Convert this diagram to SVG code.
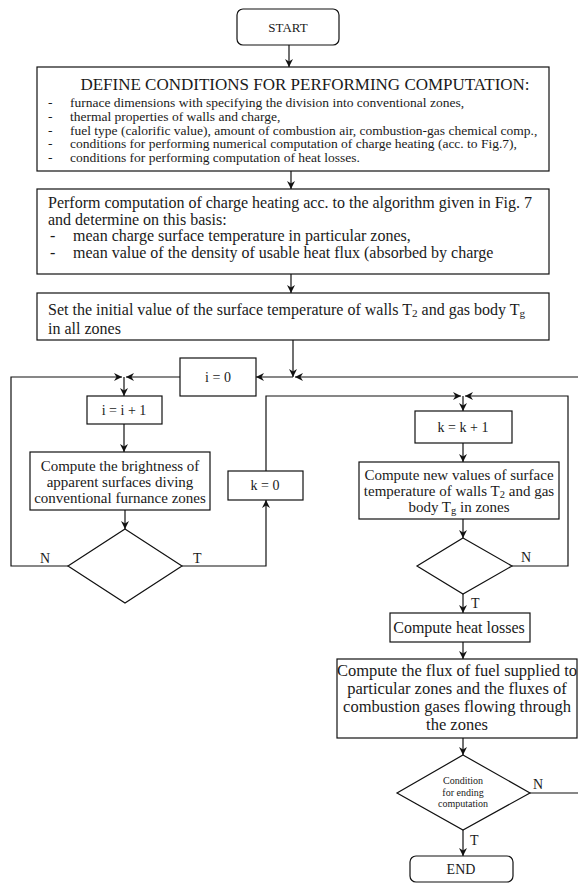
<svg xmlns="http://www.w3.org/2000/svg" width="578" height="883" viewBox="0 0 578 883">
<defs>
<marker id="arr" markerUnits="userSpaceOnUse" markerWidth="9" markerHeight="8" refX="8" refY="4" orient="auto">
<path d="M0,0 L8,4 L0,8 L2.5,4 z" fill="#111"/>
</marker>
<style>
.box{fill:#fff;stroke:#111;stroke-width:1.2}
.ln{fill:none;stroke:#111;stroke-width:1.2}
.ar{fill:none;stroke:#111;stroke-width:1.2;marker-end:url(#arr)}
text{font-family:"Liberation Serif","Times New Roman",serif;fill:#1a1a1a}
.c{text-anchor:middle}
.sub{font-size:70%}
</style>
</defs>
<rect width="578" height="883" fill="#fff"/>
<g id="connectors">
<path class="ar" d="M289,45 V67"/>
<path class="ar" d="M291,171 V189"/>
<path class="ar" d="M291,274 V293"/>
<path class="ar" d="M293,340 V377"/>
<path class="ar" d="M578,377 H295"/>
<path class="ar" d="M293,377 H256"/>
<path class="ar" d="M180,377 H126"/>
<path class="ar" d="M68,566 H11 V377 H122"/>
<path class="ar" d="M124,377 V396"/>
<path class="ar" d="M124,424 V452"/>
<path class="ar" d="M125,510 V529"/>
<path class="ar" d="M182,566 H266 V500"/>
<path class="ar" d="M266,471 V396 H461"/>
<path class="ar" d="M512,566 H568 V396 H465"/>
<path class="ar" d="M463,396 V411"/>
<path class="ar" d="M463,443 V462"/>
<path class="ar" d="M463,519 V538"/>
<path class="ar" d="M463,594 V613"/>
<path class="ar" d="M463,642 V659"/>
<path class="ar" d="M463,738 V755"/>
<path class="ln" d="M530,793 H578"/>
<path class="ar" d="M463,830 V856"/>
</g>
<g id="start">
<rect class="box" x="237" y="9" width="102" height="36" rx="6"/>
<text class="c" x="288" y="32" font-size="13">START</text>
</g>
<g id="define">
<rect class="box" x="37" y="67" width="512" height="104"/>
<text class="c" x="305" y="90" font-size="17">DEFINE CONDITIONS FOR PERFORMING COMPUTATION:</text>
<g font-size="13.5">
<text x="48" y="107">-</text><text x="70" y="107">furnace dimensions with specifying the division into conventional zones,</text>
<text x="48" y="120.8">-</text><text x="70" y="120.8">thermal properties of walls and charge,</text>
<text x="48" y="134.6">-</text><text x="70" y="134.6">fuel type (calorific value), amount of combustion air, combustion-gas chemical comp.,</text>
<text x="48" y="148.4">-</text><text x="70" y="148.4">conditions for performing numerical computation of charge heating (acc. to Fig.7),</text>
<text x="48" y="162.2">-</text><text x="70" y="162.2">conditions for performing computation of heat losses.</text>
</g>
</g>
<g id="perform">
<rect class="box" x="37" y="189" width="512" height="85"/>
<g font-size="16">
<text x="48" y="208">Perform computation of charge heating acc. to the algorithm given in Fig. 7</text>
<text x="48" y="224.5">and determine on this basis:</text>
<text x="50" y="241">-</text><text x="73" y="241">mean charge surface temperature in particular zones,</text>
<text x="50" y="257.5">-</text><text x="73" y="257.5">mean value of the density of usable heat flux (absorbed by charge</text>
</g>
</g>
<g id="set">
<rect class="box" x="37" y="293" width="512" height="47"/>
<g font-size="16">
<text x="48" y="315">Set the initial value of the surface temperature of walls T<tspan class="sub" dy="2">2</tspan><tspan dy="-2"> and gas body T</tspan><tspan class="sub" dy="2">g</tspan></text>
<text x="48" y="334">in all zones</text>
</g>
</g>
<g id="i0">
<rect class="box" x="180" y="358" width="76" height="38"/>
<text class="c" x="218" y="382" font-size="14">i = 0</text>
</g>
<g id="iinc">
<rect class="box" x="87" y="396" width="75" height="28"/>
<text class="c" x="124" y="415" font-size="14">i = i + 1</text>
</g>
<g id="bright">
<rect class="box" x="30" y="452" width="180" height="58"/>
<g font-size="15" class="c">
<text x="120" y="471">Compute the brightness of</text>
<text x="120" y="487">apparent surfaces diving</text>
<text x="120" y="503">conventional furnance zones</text>
</g>
</g>
<g id="dec1">
<path class="box" d="M125,529 L182,566 L125,603 L68,566 z"/>
<text x="40" y="563" font-size="14">N</text>
<text x="193" y="563" font-size="14">T</text>
</g>
<g id="k0">
<rect class="box" x="228" y="471" width="75" height="29"/>
<text class="c" x="265" y="490" font-size="14">k = 0</text>
</g>
<g id="kinc">
<rect class="box" x="415" y="411" width="97" height="32"/>
<text class="c" x="463" y="432" font-size="14">k = k + 1</text>
</g>
<g id="newvals">
<rect class="box" x="359" y="462" width="200" height="57"/>
<g font-size="15" class="c">
<text x="459" y="480">Compute new values of surface</text>
<text x="459" y="496">temperature of walls T<tspan class="sub" dy="2">2</tspan><tspan dy="-2"> and gas</tspan></text>
<text x="459" y="512">body T<tspan class="sub" dy="2">g</tspan><tspan dy="-2"> in zones</tspan></text>
</g>
</g>
<g id="dec2">
<path class="box" d="M463,538 L512,566 L463,594 L417,566 z"/>
<text x="521" y="562" font-size="14">N</text>
<text x="471" y="608" font-size="14">T</text>
</g>
<g id="heat">
<rect class="box" x="390" y="613" width="140" height="29"/>
<text class="c" x="459" y="633" font-size="16">Compute heat losses</text>
</g>
<g id="flux">
<rect class="box" x="337" y="659" width="240" height="79"/>
<g font-size="16.5" class="c">
<text x="457" y="676">Compute the flux of fuel supplied to</text>
<text x="457" y="694">particular zones and the fluxes of</text>
<text x="457" y="712">combustion gases flowing through</text>
<text x="457" y="730">the zones</text>
</g>
</g>
<g id="cond">
<path class="box" d="M463,755 L530,793 L463,830 L397,793 z"/>
<g font-size="10" class="c">
<text x="463" y="784">Condition</text>
<text x="463" y="796">for ending</text>
<text x="463" y="807">computation</text>
</g>
<text x="533" y="789" font-size="14">N</text>
<text x="470" y="845" font-size="14">T</text>
</g>
<g id="end">
<rect class="box" x="410" y="856" width="103" height="26" rx="6"/>
<text class="c" x="461" y="874" font-size="14">END</text>
</g>
</svg>
